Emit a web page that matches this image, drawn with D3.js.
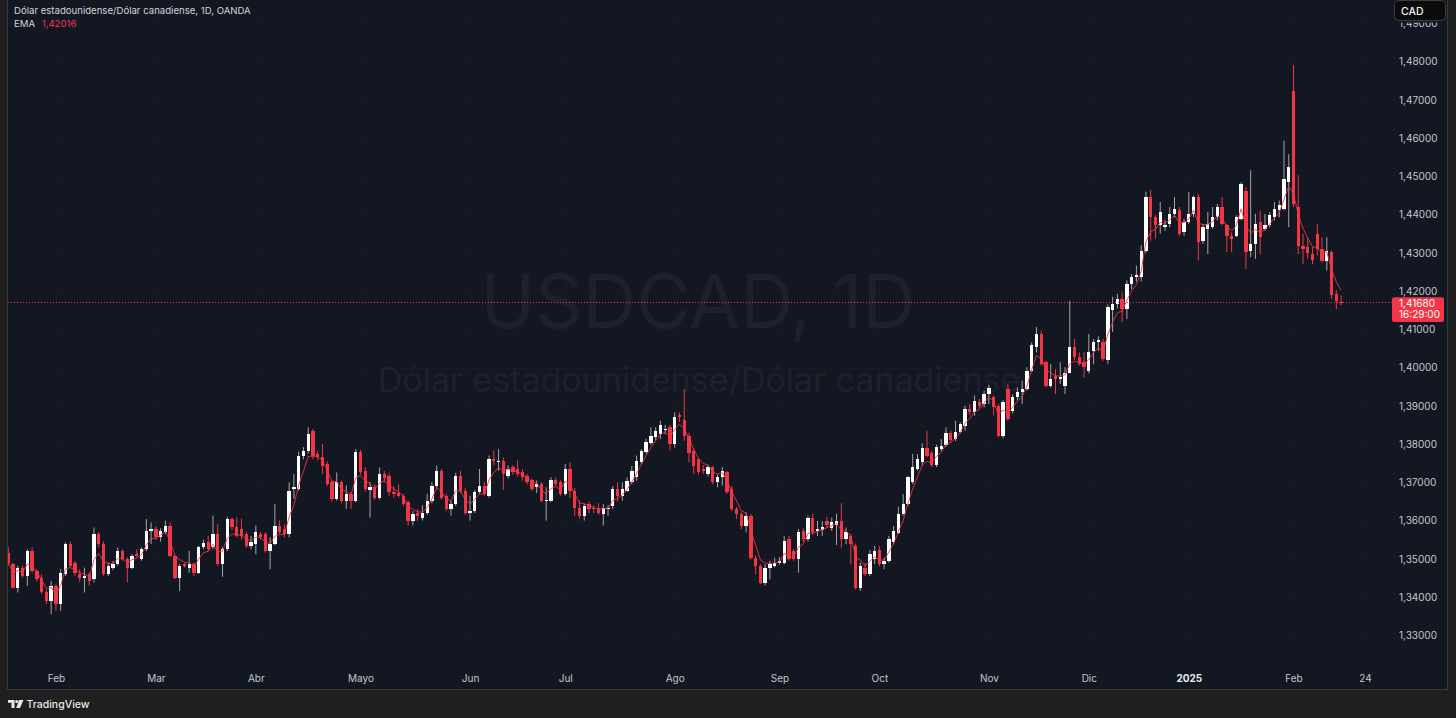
<!DOCTYPE html>
<head>
  <meta charset="utf-8">
  <script src="https://d3js.org/d3.v7.min.js"></script>
  <style>
    body { margin:0; background:#1f1f1f; }
    text { font-family: Inter, "Noto Sans", sans-serif; }
  </style>
</head>
<body>
<script>
// USDCAD daily, OANDA, 18 Jan 2024 -> 17 Feb 2025 (one value per trading day)
var opens = [1.3515,1.3486,1.3425,1.3477,1.3456,1.3521,1.3469,1.3451,1.3412,1.3390,1.3429,1.3381,1.3460,1.3539,1.3490,1.3460,1.3451,1.3460,1.3447,1.3565,
1.3539,1.3460,1.3477,1.3486,1.3521,1.3499,1.3477,1.3512,1.3499,1.3525,1.3573,1.3578,1.3556,1.3569,1.3587,1.3508,1.3451,1.3486,1.3477,1.3486,
1.3464,1.3530,1.3543,1.3530,1.3565,1.3486,1.3525,1.3604,1.3582,1.3578,1.3565,1.3534,1.3539,1.3565,1.3565,1.3521,1.3539,1.3587,1.3578,1.3565,
1.3683,1.3683,1.3770,1.3783,1.3835,1.3774,1.3765,1.3748,1.3700,1.3657,1.3700,1.3652,1.3670,1.3652,1.3779,1.3730,1.3680,1.3687,1.3660,1.3722,
1.3717,1.3674,1.3672,1.3665,1.3648,1.3600,1.3620,1.3608,1.3621,1.3652,1.3691,1.3730,1.3665,1.3630,1.3643,1.3717,1.3678,1.3621,1.3625,1.3674,
1.3691,1.3665,1.3760,1.3752,1.3757,1.3717,1.3739,1.3735,1.3726,1.3717,1.3705,1.3687,1.3695,1.3652,1.3652,1.3705,1.3700,1.3670,1.3735,1.3678,
1.3634,1.3613,1.3643,1.3634,1.3634,1.3617,1.3630,1.3639,1.3682,1.3665,1.3678,1.3700,1.3713,1.3752,1.3779,1.3802,1.3818,1.3826,1.3838,1.3844,
1.3800,1.3875,1.3862,1.3822,1.3783,1.3760,1.3735,1.3722,1.3739,1.3700,1.3713,1.3726,1.3682,1.3630,1.3617,1.3586,1.3613,1.3503,1.3481,1.3438,
1.3477,1.3481,1.3490,1.3490,1.3551,1.3521,1.3499,1.3573,1.3551,1.3608,1.3573,1.3575,1.3599,1.3580,1.3589,1.3599,1.3551,1.3560,1.3534,1.3425,
1.3477,1.3460,1.3499,1.3523,1.3486,1.3495,1.3543,1.3568,1.3618,1.3643,1.3700,1.3735,1.3752,1.3791,1.3778,1.3746,1.3786,1.3798,1.3829,1.3813,
1.3832,1.3848,1.3892,1.3883,1.3910,1.3905,1.3931,1.3922,1.3900,1.3822,1.3944,1.3887,1.3922,1.3935,1.3944,1.3992,1.4053,1.4088,1.4014,1.3953,
1.3978,1.3970,1.3953,1.3987,1.4053,1.4027,1.4014,1.3990,1.4044,1.4066,1.4066,1.4019,1.4150,1.4167,1.4180,1.4154,1.4219,1.4237,1.4236,1.4304,
1.4446,1.4393,1.4372,1.4367,1.4376,1.4402,1.4413,1.4354,1.4380,1.4402,1.4447,1.4332,1.4363,1.4367,1.4393,1.4420,1.4372,1.4345,1.4345,1.4389,
1.4463,1.4306,1.4324,1.4380,1.4363,1.4372,1.4393,1.4413,1.4415,1.4485,1.4724,1.4420,1.4319,1.4315,1.4297,1.4350,1.4310,1.4280,1.4302,1.4193,
1.4172];
var highs = [1.3530,1.3490,1.3482,1.3482,1.3525,1.3530,1.3473,1.3460,1.3420,1.3442,1.3435,1.3473,1.3543,1.3545,1.3495,1.3473,1.3477,1.3464,1.3582,1.3570,
1.3545,1.3490,1.3495,1.3530,1.3525,1.3504,1.3512,1.3525,1.3530,1.3604,1.3595,1.3585,1.3580,1.3600,1.3595,1.3512,1.3486,1.3490,1.3521,1.3490,
1.3534,1.3550,1.3560,1.3613,1.3590,1.3530,1.3610,1.3608,1.3608,1.3605,1.3570,1.3560,1.3587,1.3570,1.3570,1.3556,1.3643,1.3600,1.3590,1.3700,
1.3722,1.3780,1.3792,1.3844,1.3840,1.3783,1.3800,1.3755,1.3705,1.3726,1.3705,1.3692,1.3675,1.3787,1.3785,1.3740,1.3700,1.3695,1.3739,1.3730,
1.3725,1.3690,1.3695,1.3670,1.3652,1.3625,1.3630,1.3640,1.3670,1.3700,1.3744,1.3735,1.3670,1.3652,1.3725,1.3730,1.3685,1.3665,1.3680,1.3735,
1.3700,1.3770,1.3783,1.3787,1.3765,1.3744,1.3745,1.3757,1.3735,1.3722,1.3710,1.3705,1.3700,1.3687,1.3713,1.3713,1.3705,1.3748,1.3752,1.3685,
1.3652,1.3645,1.3650,1.3640,1.3645,1.3643,1.3640,1.3690,1.3700,1.3700,1.3713,1.3743,1.3770,1.3787,1.3814,1.3844,1.3844,1.3861,1.3850,1.3850,
1.3883,1.3883,1.3944,1.3830,1.3790,1.3765,1.3745,1.3745,1.3742,1.3720,1.3740,1.3730,1.3690,1.3636,1.3621,1.3621,1.3617,1.3510,1.3486,1.3486,
1.3495,1.3503,1.3505,1.3560,1.3560,1.3525,1.3578,1.3580,1.3613,1.3618,1.3599,1.3599,1.3610,1.3608,1.3618,1.3645,1.3582,1.3565,1.3540,1.3490,
1.3490,1.3523,1.3534,1.3534,1.3503,1.3560,1.3586,1.3636,1.3669,1.3717,1.3774,1.3774,1.3802,1.3835,1.3782,1.3798,1.3813,1.3844,1.3835,1.3861,
1.3857,1.3900,1.3905,1.3927,1.3918,1.3940,1.3955,1.3927,1.3905,1.3915,1.3957,1.3930,1.3948,1.3966,1.4001,1.4066,1.4106,1.4097,1.4018,1.4009,
1.3996,1.4014,1.4001,1.4175,1.4075,1.4040,1.4040,1.4088,1.4075,1.4082,1.4075,1.4165,1.4185,1.4193,1.4196,1.4228,1.4245,1.4267,1.4320,1.4460,
1.4465,1.4398,1.4433,1.4386,1.4420,1.4446,1.4420,1.4389,1.4459,1.4450,1.4454,1.4376,1.4407,1.4420,1.4428,1.4446,1.4376,1.4354,1.4398,1.4485,
1.4472,1.4516,1.4402,1.4411,1.4402,1.4407,1.4433,1.4437,1.4594,1.4558,1.4791,1.4503,1.4350,1.4340,1.4315,1.4376,1.4341,1.4341,1.4306,1.4202,
1.4189];
var lows = [1.3482,1.3423,1.3412,1.3451,1.3429,1.3464,1.3440,1.3408,1.3381,1.3355,1.3364,1.3364,1.3455,1.3477,1.3455,1.3440,1.3412,1.3430,1.3438,1.3530,
1.3456,1.3455,1.3470,1.3482,1.3495,1.3438,1.3473,1.3504,1.3495,1.3520,1.3539,1.3550,1.3545,1.3565,1.3504,1.3447,1.3416,1.3477,1.3464,1.3455,
1.3460,1.3525,1.3520,1.3525,1.3482,1.3453,1.3520,1.3575,1.3556,1.3550,1.3528,1.3525,1.3512,1.3550,1.3516,1.3473,1.3535,1.3565,1.3556,1.3556,
1.3657,1.3678,1.3760,1.3775,1.3760,1.3757,1.3722,1.3690,1.3650,1.3652,1.3645,1.3630,1.3630,1.3648,1.3720,1.3675,1.3608,1.3655,1.3655,1.3700,
1.3665,1.3660,1.3660,1.3638,1.3587,1.3587,1.3600,1.3600,1.3615,1.3645,1.3685,1.3655,1.3625,1.3613,1.3638,1.3672,1.3615,1.3600,1.3620,1.3670,
1.3665,1.3660,1.3745,1.3730,1.3680,1.3710,1.3720,1.3715,1.3705,1.3695,1.3678,1.3672,1.3648,1.3600,1.3648,1.3690,1.3665,1.3665,1.3660,1.3613,
1.3605,1.3600,1.3620,1.3620,1.3615,1.3587,1.3613,1.3630,1.3650,1.3652,1.3675,1.3695,1.3704,1.3748,1.3775,1.3798,1.3810,1.3813,1.3826,1.3783,
1.3791,1.3857,1.3809,1.3752,1.3722,1.3720,1.3722,1.3715,1.3695,1.3687,1.3691,1.3670,1.3625,1.3604,1.3578,1.3569,1.3498,1.3460,1.3434,1.3430,
1.3446,1.3477,1.3485,1.3485,1.3495,1.3495,1.3464,1.3545,1.3545,1.3562,1.3560,1.3560,1.3580,1.3573,1.3536,1.3529,1.3538,1.3486,1.3420,1.3416,
1.3455,1.3455,1.3486,1.3481,1.3473,1.3490,1.3538,1.3565,1.3613,1.3638,1.3695,1.3730,1.3745,1.3765,1.3740,1.3740,1.3782,1.3793,1.3805,1.3808,
1.3828,1.3835,1.3875,1.3874,1.3894,1.3896,1.3905,1.3875,1.3818,1.3815,1.3860,1.3880,1.3915,1.3905,1.3940,1.3988,1.4040,1.4005,1.3948,1.3948,
1.3931,1.3957,1.3931,1.3985,1.4020,1.4005,1.3974,1.3985,1.4009,1.4044,1.4018,1.4010,1.4093,1.4155,1.4119,1.4127,1.4205,1.4225,1.4225,1.4300,
1.4332,1.4337,1.4350,1.4358,1.4367,1.4393,1.4345,1.4345,1.4376,1.4393,1.4280,1.4324,1.4297,1.4363,1.4385,1.4372,1.4302,1.4302,1.4341,1.4385,
1.4258,1.4289,1.4284,1.4297,1.4358,1.4367,1.4385,1.4393,1.4411,1.4367,1.4420,1.4297,1.4270,1.4285,1.4270,1.4293,1.4275,1.4254,1.4180,1.4153,
1.4163];
var closes = [1.3490,1.3425,1.3477,1.3456,1.3521,1.3469,1.3447,1.3412,1.3390,1.3429,1.3381,1.3464,1.3539,1.3482,1.3464,1.3451,1.3456,1.3442,1.3565,1.3539,
1.3460,1.3482,1.3486,1.3521,1.3499,1.3477,1.3508,1.3508,1.3525,1.3573,1.3578,1.3556,1.3573,1.3587,1.3508,1.3451,1.3482,1.3482,1.3486,1.3464,
1.3530,1.3541,1.3525,1.3565,1.3486,1.3525,1.3604,1.3582,1.3560,1.3560,1.3534,1.3543,1.3569,1.3556,1.3521,1.3539,1.3587,1.3569,1.3565,1.3678,
1.3687,1.3770,1.3783,1.3826,1.3770,1.3765,1.3744,1.3695,1.3657,1.3700,1.3652,1.3670,1.3652,1.3779,1.3726,1.3682,1.3687,1.3660,1.3722,1.3712,
1.3674,1.3670,1.3665,1.3643,1.3600,1.3617,1.3613,1.3621,1.3652,1.3691,1.3730,1.3660,1.3630,1.3643,1.3717,1.3678,1.3621,1.3625,1.3674,1.3691,
1.3670,1.3760,1.3757,1.3755,1.3722,1.3735,1.3726,1.3722,1.3713,1.3700,1.3682,1.3695,1.3652,1.3655,1.3705,1.3696,1.3670,1.3735,1.3678,1.3634,
1.3613,1.3639,1.3630,1.3630,1.3621,1.3634,1.3634,1.3682,1.3665,1.3682,1.3704,1.3730,1.3756,1.3783,1.3805,1.3822,1.3835,1.3850,1.3840,1.3800,
1.3870,1.3870,1.3822,1.3778,1.3743,1.3726,1.3730,1.3739,1.3700,1.3713,1.3730,1.3674,1.3630,1.3617,1.3586,1.3613,1.3503,1.3481,1.3438,1.3477,
1.3486,1.3490,1.3495,1.3547,1.3499,1.3499,1.3569,1.3551,1.3608,1.3569,1.3578,1.3584,1.3589,1.3595,1.3599,1.3551,1.3569,1.3538,1.3425,1.3482,
1.3460,1.3512,1.3521,1.3486,1.3495,1.3551,1.3573,1.3618,1.3643,1.3713,1.3739,1.3761,1.3791,1.3770,1.3746,1.3793,1.3795,1.3829,1.3812,1.3832,
1.3852,1.3892,1.3883,1.3913,1.3900,1.3931,1.3948,1.3896,1.3822,1.3909,1.3866,1.3922,1.3935,1.3944,1.3992,1.4058,1.4088,1.4010,1.3953,1.3970,
1.3970,1.3975,1.3987,1.4053,1.4027,1.4010,1.4001,1.4040,1.4066,1.4071,1.4023,1.4158,1.4167,1.4180,1.4154,1.4219,1.4237,1.4241,1.4306,1.4446,
1.4393,1.4372,1.4407,1.4372,1.4402,1.4415,1.4350,1.4380,1.4402,1.4446,1.4328,1.4367,1.4376,1.4393,1.4420,1.4376,1.4345,1.4337,1.4393,1.4481,
1.4302,1.4324,1.4376,1.4341,1.4372,1.4398,1.4415,1.4424,1.4494,1.4524,1.4427,1.4319,1.4310,1.4300,1.4282,1.4310,1.4280,1.4306,1.4189,1.4175,
1.4168];

var firstDay = "2024-01-18";
var closedDays = ["2024-12-25", "2025-01-01"];
var monthNames = ["Ene","Feb","Mar","Abr","Mayo","Jun","Jul","Ago","Sep","Oct","Nov","Dic"];
var dayTicks = ["2025-02-24"];
var priceTicks = [1.33,1.34,1.35,1.36,1.37,1.38,1.39,1.40,1.41,1.42,1.43,1.44,1.45,1.46,1.47,1.48,1.49];
var emaLength = 4;
var lastPrice = 1.41680;

var width = 1456, height = 718;
var up = "#ffffff", down = "#f23645";

// trading calendar (weekdays, market closed days removed), running to the right edge
var parse = d3.timeParse("%Y-%m-%d"), fmt = d3.timeFormat("%Y-%m-%d");
var days = [];
var day = parse(firstDay);
while (days.length < 290) {
  var wd = day.getDay();
  if (wd != 0 && wd != 6 && closedDays.indexOf(fmt(day)) < 0) days.push(new Date(day));
  day = d3.timeDay.offset(day, 1);
}

var bars = closes.map(function(c, i) {
  return {i: i, date: days[i], o: opens[i], h: highs[i], l: lows[i], c: c};
});

// ema on closes
var ema = [], k = 2 / (emaLength + 1);
closes.forEach(function(c, i) { ema.push(i == 0 ? c : ema[i-1] + k * (c - ema[i-1])); });

var x = d3.scaleLinear().domain([0, 280]).range([8.3, 1341.1]);
var y = d3.scaleLinear().domain([1.33, 1.48]).range([635.3, 61.7]);
var step = x(1) - x(0);
var bodyW = step * 0.7;
var priceFmt = function(v) { return d3.format(".5f")(v).replace(".", ","); };

var svg = d3.select("body").append("svg")
  .attr("width", width).attr("height", height)
  .style("display", "block");

svg.append("rect").attr("width", width).attr("height", height).attr("fill", "#1f1f1f");
// chart pane
svg.append("rect").attr("x", 7.5).attr("y", -1).attr("width", 1440).attr("height", 690.5)
  .attr("fill", "#131722").attr("stroke", "#363a45");

svg.append("clipPath").attr("id", "plot")
  .append("rect").attr("x", 8).attr("y", 0).attr("width", 1380).attr("height", 665);
svg.append("clipPath").attr("id", "scale")
  .append("rect").attr("x", 1388).attr("y", 22.6).attr("width", 59).attr("height", 645);

// month ticks
var monthTicks = [];
days.forEach(function(d, i) {
  if (i > 0 && d.getMonth() != days[i-1].getMonth()) monthTicks.push(i);
  if (dayTicks.indexOf(fmt(d)) >= 0) monthTicks.push(i);
});

// grid
var grid = svg.append("g").attr("clip-path", "url(#plot)");
grid.selectAll(".hg").data(priceTicks).enter().append("line")
  .attr("x1", 8).attr("x2", 1388)
  .attr("y1", d => Math.round(y(d)) + 0.5).attr("y2", d => Math.round(y(d)) + 0.5)
  .attr("stroke", "#171b26");
grid.selectAll(".vg").data(monthTicks).enter().append("line")
  .attr("x1", d => Math.round(x(d)) + 0.5).attr("x2", d => Math.round(x(d)) + 0.5)
  .attr("y1", 0).attr("y2", 665)
  .attr("stroke", "#171b26");

// watermark
svg.append("text").attr("x", 698).attr("y", 328)
  .attr("text-anchor", "middle").attr("font-size", 74).attr("fill", "#1d212c")
  .text("USDCAD, 1D");
svg.append("text").attr("x", 699).attr("y", 392)
  .attr("text-anchor", "middle").attr("font-size", 34).attr("fill", "#1d212c")
  .text("Dólar estadounidense/Dólar canadiense");

var plot = svg.append("g").attr("clip-path", "url(#plot)");

// wicks
plot.selectAll(".wick").data(bars).enter().append("line")
  .attr("x1", d => x(d.i)).attr("x2", d => x(d.i))
  .attr("y1", d => y(d.h)).attr("y2", d => y(d.l))
  .attr("stroke", d => d.c >= d.o ? "#a3a5ab" : down)
  .attr("stroke-width", 1);

// bodies
plot.selectAll(".body").data(bars).enter().append("rect")
  .attr("x", d => x(d.i) - bodyW / 2)
  .attr("width", bodyW)
  .attr("y", d => y(Math.max(d.o, d.c)))
  .attr("height", d => Math.max(1, Math.abs(y(d.o) - y(d.c))))
  .attr("fill", d => d.c >= d.o ? up : down)
  .attr("shape-rendering", "crispEdges");

// ema line
plot.append("path").datum(ema)
  .attr("fill", "none").attr("stroke", down).attr("stroke-width", 1).attr("stroke-opacity", 0.85)
  .attr("d", d3.line().x((d, i) => x(i)).y(d => y(d)));

// last price line
var ly = Math.round(y(lastPrice)) - 0.5;
svg.append("line")
  .attr("x1", 8).attr("x2", 1392)
  .attr("y1", ly).attr("y2", ly)
  .attr("stroke", down).attr("stroke-dasharray", "1,2");

// price axis
var yAxis = svg.append("g").attr("clip-path", "url(#scale)")
  .append("g").attr("transform", "translate(1399,0)")
  .call(d3.axisRight(y).tickValues(priceTicks).tickSize(0).tickPadding(0).tickFormat(priceFmt));
yAxis.select(".domain").remove();
yAxis.selectAll("text").attr("font-size", 10).attr("fill", "#c3c6ce")
  .attr("font-family", "Inter, sans-serif");

// time axis
var xAxis = svg.append("g").attr("transform", "translate(0,675)")
  .call(d3.axisBottom(x).tickValues(monthTicks).tickSize(0).tickPadding(0)
    .tickFormat(function(i) {
      var d = days[i];
      if (dayTicks.indexOf(fmt(d)) >= 0) return d.getDate();
      return d.getMonth() == 0 ? d.getFullYear() : monthNames[d.getMonth()];
    }));
xAxis.select(".domain").remove();
xAxis.selectAll("text").attr("font-size", 10)
  .attr("font-family", "Inter, sans-serif")
  .attr("font-weight", function(i) { return days[i].getMonth() == 0 ? 700 : 400; })
  .attr("fill", function(i) { return days[i].getMonth() == 0 ? "#e6e8ee" : "#c3c6ce"; });

// last price label
var tag = svg.append("g");
tag.append("rect").attr("x", 1392).attr("y", 297.3).attr("width", 52).attr("height", 24.7)
  .attr("rx", 2).attr("fill", down);
tag.append("text").attr("x", 1399).attr("y", 303.4).attr("dy", "0.35em")
  .attr("font-size", 10).attr("fill", "#ffffff").text(priceFmt(lastPrice));
tag.append("text").attr("x", 1399).attr("y", 314.4).attr("dy", "0.35em")
  .attr("font-size", 10).attr("fill", "#ffffff").text("16:29:00");

// currency button
svg.append("rect").attr("x", 1394.5).attr("y", 0.5).attr("width", 51).attr("height", 20)
  .attr("rx", 4).attr("fill", "#0b0b0c").attr("stroke", "#3b3d44");
svg.append("text").attr("x", 1401).attr("y", 11).attr("dy", "0.35em")
  .attr("font-size", 10.5).attr("font-weight", 500).attr("fill", "#f0f0f0").text("CAD");

// legend
svg.append("text").attr("x", 14).attr("y", 10.5).attr("dy", "0.35em")
  .attr("font-size", 9.6).attr("fill", "#d1d4dc")
  .text("Dólar estadounidense/Dólar canadiense, 1D, OANDA");
var leg = svg.append("text").attr("x", 14).attr("y", 24).attr("dy", "0.35em")
  .attr("font-size", 9.6).attr("fill", "#d1d4dc");
leg.append("tspan").text("EMA");
leg.append("tspan").attr("dx", 7).attr("fill", down).text("1,42016");

// TradingView mark
var logo = svg.append("g").attr("transform", "translate(8,700)").attr("fill", "#e8e8e8");
logo.append("path").attr("d", "M0,0 H6.5 V8 H3.5 V2.8 H0 Z");
logo.append("circle").attr("cx", 8.6).attr("cy", 1.5).attr("r", 1.5);
logo.append("path").attr("d", "M11,0 H15.5 L12,8 H8.2 Z");
svg.append("text").attr("x", 26.5).attr("y", 708.3)
  .attr("font-size", 10.5).attr("font-weight", 500).attr("fill", "#e8e8e8").text("TradingView");
</script>
</body>
